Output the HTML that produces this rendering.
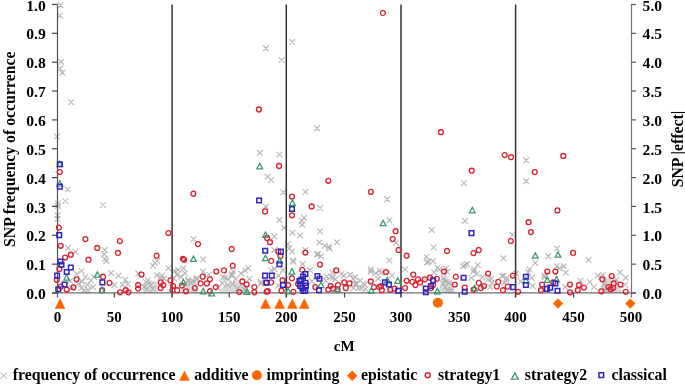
<!DOCTYPE html><html><head><meta charset="utf-8"><style>html,body{margin:0;padding:0;background:#fff;width:685px;height:384px;overflow:hidden}svg{display:block;will-change:transform}text{font-family:"Liberation Serif",serif;font-weight:bold;fill:#000}</style></head><body><svg width="685" height="384" viewBox="0 0 685 384"><polygon points="143,293 143,284 150,280 157,282 158,293" fill="#d9d9d9"/><polygon points="181,293 184,283 190,279 197,283 198,293" fill="#d9d9d9"/><polygon points="219,293 225,284 235,281 247,285 250,293" fill="#d9d9d9"/><polygon points="438,293 441,282 447,278 453,283 455,293" fill="#d9d9d9"/><polygon points="600,293 603,280 610,276 618,281 622,293" fill="#d9d9d9"/><path d="M57.55 2.35l5.7 5.7M57.55 8.05l5.7 -5.7M57.05 12.75l5.7 5.7M57.05 18.45l5.7 -5.7M58.05 58.95l5.7 5.7M58.05 64.65l5.7 -5.7M57.35 65.55l5.7 5.7M57.35 71.25l5.7 -5.7M59.55 69.95l5.7 5.7M59.55 75.65l5.7 -5.7M68.25 99.35l5.7 5.7M68.25 105.05l5.7 -5.7M54.15 133.55l5.7 5.7M54.15 139.25l5.7 -5.7M263.05 45.35l5.7 5.7M263.05 51.05l5.7 -5.7M278.75 57.15l5.7 5.7M278.75 62.85l5.7 -5.7M289.45 39.15l5.7 5.7M289.45 44.85l5.7 -5.7M256.95 149.95l5.7 5.7M256.95 155.65l5.7 -5.7M276.45 151.75l5.7 5.7M276.45 157.45l5.7 -5.7M264.75 173.85l5.7 5.7M264.75 179.55l5.7 -5.7M268.40 177.25l5.7 5.7M268.40 182.95l5.7 -5.7M314.05 125.45l5.7 5.7M314.05 131.15l5.7 -5.7M461.05 180.25l5.7 5.7M461.05 185.95l5.7 -5.7M523.35 157.45l5.7 5.7M523.35 163.15l5.7 -5.7M523.35 178.35l5.7 5.7M523.35 184.05l5.7 -5.7M64.65 186.55l5.7 5.7M64.65 192.25l5.7 -5.7M62.45 198.25l5.7 5.7M62.45 203.95l5.7 -5.7M54.95 200.55l5.7 5.7M54.95 206.25l5.7 -5.7M54.95 203.15l5.7 5.7M54.95 208.85l5.7 -5.7M100.05 202.25l5.7 5.7M100.05 207.95l5.7 -5.7M54.65 212.35l5.7 5.7M54.65 218.05l5.7 -5.7M54.65 216.15l5.7 5.7M54.65 221.85l5.7 -5.7M190.65 236.15l5.7 5.7M190.65 241.85l5.7 -5.7M280.55 189.45l5.7 5.7M280.55 195.15l5.7 -5.7M302.75 189.05l5.7 5.7M302.75 194.75l5.7 -5.7M317.35 205.15l5.7 5.7M317.35 210.85l5.7 -5.7M262.95 203.85l5.7 5.7M262.95 209.55l5.7 -5.7M301.15 214.85l5.7 5.7M301.15 220.55l5.7 -5.7M298.85 217.95l5.7 5.7M298.85 223.65l5.7 -5.7M276.55 217.15l5.7 5.7M276.55 222.85l5.7 -5.7M299.35 221.85l5.7 5.7M299.35 227.55l5.7 -5.7M281.35 224.95l5.7 5.7M281.35 230.65l5.7 -5.7M384.45 196.35l5.7 5.7M384.45 202.05l5.7 -5.7M386.55 217.45l5.7 5.7M386.55 223.15l5.7 -5.7M462.15 217.95l5.7 5.7M462.15 223.65l5.7 -5.7M428.85 227.15l5.7 5.7M428.85 232.85l5.7 -5.7M65.05 245.05l5.7 5.7M65.05 250.75l5.7 -5.7M72.65 249.25l5.7 5.7M72.65 254.95l5.7 -5.7M101.85 247.15l5.7 5.7M101.85 252.85l5.7 -5.7M101.35 251.35l5.7 5.7M101.35 257.05l5.7 -5.7M102.35 256.05l5.7 5.7M102.35 261.75l5.7 -5.7M152.15 260.15l5.7 5.7M152.15 265.85l5.7 -5.7M200.35 256.55l5.7 5.7M200.35 262.25l5.7 -5.7M271.55 233.65l5.7 5.7M271.55 239.35l5.7 -5.7M271.55 247.15l5.7 5.7M271.55 252.85l5.7 -5.7M289.55 229.95l5.7 5.7M289.55 235.65l5.7 -5.7M297.35 232.55l5.7 5.7M297.35 238.25l5.7 -5.7M317.15 228.40l5.7 5.7M317.15 234.10l5.7 -5.7M316.45 239.65l5.7 5.7M316.45 245.35l5.7 -5.7M321.85 242.85l5.7 5.7M321.85 248.55l5.7 -5.7M284.85 241.45l5.7 5.7M284.85 247.15l5.7 -5.7M289.15 248.65l5.7 5.7M289.15 254.35l5.7 -5.7M302.60 247.10l5.7 5.7M302.60 252.80l5.7 -5.7M314.05 251.35l5.7 5.7M314.05 257.05l5.7 -5.7M318.15 253.40l5.7 5.7M318.15 259.10l5.7 -5.7M290.05 257.55l5.7 5.7M290.05 263.25l5.7 -5.7M299.65 261.20l5.7 5.7M299.65 266.90l5.7 -5.7M334.15 239.35l5.7 5.7M334.15 245.05l5.7 -5.7M326.05 243.85l5.7 5.7M326.05 249.55l5.7 -5.7M393.25 239.85l5.7 5.7M393.25 245.55l5.7 -5.7M386.55 257.55l5.7 5.7M386.55 263.25l5.7 -5.7M430.75 244.55l5.7 5.7M430.75 250.25l5.7 -5.7M423.70 254.00l5.7 5.7M423.70 259.70l5.7 -5.7M430.10 258.27l5.7 5.7M430.10 263.98l5.7 -5.7M424.05 259.65l5.7 5.7M424.05 265.35l5.7 -5.7M461.85 262.15l5.7 5.7M461.85 267.85l5.7 -5.7M474.85 262.15l5.7 5.7M474.85 267.85l5.7 -5.7M509.55 232.05l5.7 5.7M509.55 237.75l5.7 -5.7M500.65 255.45l5.7 5.7M500.65 261.15l5.7 -5.7M545.45 253.40l5.7 5.7M545.45 259.10l5.7 -5.7M532.45 260.15l5.7 5.7M532.45 265.85l5.7 -5.7M554.15 245.55l5.7 5.7M554.15 251.25l5.7 -5.7M585.65 257.05l5.7 5.7M585.65 262.75l5.7 -5.7M103.40 258.15l5.7 5.7M103.40 263.85l5.7 -5.7M108.40 270.15l5.7 5.7M108.40 275.85l5.7 -5.7M115.65 272.75l5.7 5.7M115.65 278.45l5.7 -5.7M122.45 276.95l5.7 5.7M122.45 282.65l5.7 -5.7M111.55 282.15l5.7 5.7M111.55 287.85l5.7 -5.7M125.05 281.15l5.7 5.7M125.05 286.85l5.7 -5.7M135.45 270.65l5.7 5.7M135.45 276.35l5.7 -5.7M150.05 262.85l5.7 5.7M150.05 268.55l5.7 -5.7M154.25 258.15l5.7 5.7M154.25 263.85l5.7 -5.7M153.90 272.45l5.7 5.7M153.90 278.15l5.7 -5.7M143.15 279.15l5.7 5.7M143.15 284.85l5.7 -5.7M148.15 282.15l5.7 5.7M148.15 287.85l5.7 -5.7M144.15 286.15l5.7 5.7M144.15 291.85l5.7 -5.7M150.15 286.15l5.7 5.7M150.15 291.85l5.7 -5.7M141.15 284.15l5.7 5.7M141.15 289.85l5.7 -5.7M165.45 265.45l5.7 5.7M165.45 271.15l5.7 -5.7M171.75 268.05l5.7 5.7M171.75 273.75l5.7 -5.7M175.35 267.05l5.7 5.7M175.35 272.75l5.7 -5.7M180.55 265.45l5.7 5.7M180.55 271.15l5.7 -5.7M173.85 271.75l5.7 5.7M173.85 277.45l5.7 -5.7M182.15 270.65l5.7 5.7M182.15 276.35l5.7 -5.7M177.95 273.85l5.7 5.7M177.95 279.55l5.7 -5.7M185.25 276.95l5.7 5.7M185.25 282.65l5.7 -5.7M188.40 280.05l5.7 5.7M188.40 285.75l5.7 -5.7M193.65 276.95l5.7 5.7M193.65 282.65l5.7 -5.7M200.35 268.65l5.7 5.7M200.35 274.35l5.7 -5.7M206.15 271.75l5.7 5.7M206.15 277.45l5.7 -5.7M159.15 272.75l5.7 5.7M159.15 278.45l5.7 -5.7M161.35 275.90l5.7 5.7M161.35 281.60l5.7 -5.7M245.45 265.45l5.7 5.7M245.45 271.15l5.7 -5.7M230.35 268.65l5.7 5.7M230.35 274.35l5.7 -5.7M222.55 274.85l5.7 5.7M222.55 280.55l5.7 -5.7M228.85 272.75l5.7 5.7M228.85 278.45l5.7 -5.7M232.95 275.90l5.7 5.7M232.95 281.60l5.7 -5.7M238.15 270.65l5.7 5.7M238.15 276.35l5.7 -5.7M242.35 267.55l5.7 5.7M242.35 273.25l5.7 -5.7M219.35 280.45l5.7 5.7M219.35 286.15l5.7 -5.7M224.70 282.05l5.7 5.7M224.70 287.75l5.7 -5.7M229.85 281.15l5.7 5.7M229.85 286.85l5.7 -5.7M246.55 275.90l5.7 5.7M246.55 281.60l5.7 -5.7M257.95 279.05l5.7 5.7M257.95 284.75l5.7 -5.7M268.40 267.55l5.7 5.7M268.40 273.25l5.7 -5.7M328.40 273.85l5.7 5.7M328.40 279.55l5.7 -5.7M332.55 276.45l5.7 5.7M332.55 282.15l5.7 -5.7M340.90 272.75l5.7 5.7M340.90 278.45l5.7 -5.7M347.25 271.95l5.7 5.7M347.25 277.65l5.7 -5.7M350.25 275.90l5.7 5.7M350.25 281.60l5.7 -5.7M352.35 281.15l5.7 5.7M352.35 286.85l5.7 -5.7M357.40 277.75l5.7 5.7M357.40 283.45l5.7 -5.7M361.75 282.15l5.7 5.7M361.75 287.85l5.7 -5.7M355.45 285.25l5.7 5.7M355.45 290.95l5.7 -5.7M367.95 268.65l5.7 5.7M367.95 274.35l5.7 -5.7M372.85 270.30l5.7 5.7M372.85 276.00l5.7 -5.7M375.25 275.90l5.7 5.7M375.25 281.60l5.7 -5.7M323.15 277.95l5.7 5.7M323.15 283.65l5.7 -5.7M402.15 266.55l5.7 5.7M402.15 272.25l5.7 -5.7M389.15 272.75l5.7 5.7M389.15 278.45l5.7 -5.7M378.15 269.65l5.7 5.7M378.15 275.35l5.7 -5.7M431.20 269.50l5.7 5.7M431.20 275.20l5.7 -5.7M434.75 264.75l5.7 5.7M434.75 270.45l5.7 -5.7M440.45 274.85l5.7 5.7M440.45 280.55l5.7 -5.7M442.55 279.05l5.7 5.7M442.55 284.75l5.7 -5.7M470.65 268.65l5.7 5.7M470.65 274.35l5.7 -5.7M468.65 274.85l5.7 5.7M468.65 280.55l5.7 -5.7M488.40 275.90l5.7 5.7M488.40 281.60l5.7 -5.7M487.35 284.25l5.7 5.7M487.35 289.95l5.7 -5.7M526.75 266.55l5.7 5.7M526.75 272.25l5.7 -5.7M500.65 272.75l5.7 5.7M500.65 278.45l5.7 -5.7M503.85 277.95l5.7 5.7M503.85 283.65l5.7 -5.7M513.15 270.65l5.7 5.7M513.15 276.35l5.7 -5.7M528.85 274.85l5.7 5.7M528.85 280.55l5.7 -5.7M529.85 283.15l5.7 5.7M529.85 288.85l5.7 -5.7M541.35 272.75l5.7 5.7M541.35 278.45l5.7 -5.7M560.90 263.40l5.7 5.7M560.90 269.10l5.7 -5.7M556.75 265.45l5.7 5.7M556.75 271.15l5.7 -5.7M562.95 269.65l5.7 5.7M562.95 275.35l5.7 -5.7M586.95 279.05l5.7 5.7M586.95 284.75l5.7 -5.7M591.15 284.25l5.7 5.7M591.15 289.95l5.7 -5.7M577.55 277.95l5.7 5.7M577.55 283.65l5.7 -5.7M562.30 284.20l5.7 5.7M562.30 289.90l5.7 -5.7M598.40 273.85l5.7 5.7M598.40 279.55l5.7 -5.7M617.15 269.65l5.7 5.7M617.15 275.35l5.7 -5.7M622.85 274.85l5.7 5.7M622.85 280.55l5.7 -5.7M599.95 272.25l5.7 5.7M599.95 277.95l5.7 -5.7M594.75 272.75l5.7 5.7M594.75 278.45l5.7 -5.7M613.55 276.95l5.7 5.7M613.55 282.65l5.7 -5.7M622.35 282.15l5.7 5.7M622.35 287.85l5.7 -5.7M73.75 271.05l5.7 5.7M73.75 276.75l5.7 -5.7M78.65 268.25l5.7 5.7M78.65 273.95l5.7 -5.7M82.55 274.35l5.7 5.7M82.55 280.05l5.7 -5.7M87.95 277.55l5.7 5.7M87.95 283.25l5.7 -5.7M79.25 278.65l5.7 5.7M79.25 284.35l5.7 -5.7M84.65 281.95l5.7 5.7M84.65 287.65l5.7 -5.7M90.15 284.15l5.7 5.7M90.15 289.85l5.7 -5.7M78.65 285.25l5.7 5.7M78.65 290.95l5.7 -5.7M81.45 287.45l5.7 5.7M81.45 293.15l5.7 -5.7M75.95 280.85l5.7 5.7M75.95 286.55l5.7 -5.7M91.25 274.35l5.7 5.7M91.25 280.05l5.7 -5.7M85.15 287.15l5.7 5.7M85.15 292.85l5.7 -5.7M67.15 278.15l5.7 5.7M67.15 283.85l5.7 -5.7M69.15 285.15l5.7 5.7M69.15 290.85l5.7 -5.7M119.75 281.95l5.7 5.7M119.75 287.65l5.7 -5.7M144.85 277.55l5.7 5.7M144.85 283.25l5.7 -5.7M157.95 274.35l5.7 5.7M157.95 280.05l5.7 -5.7M171.05 275.45l5.7 5.7M171.05 281.15l5.7 -5.7M189.75 277.55l5.7 5.7M189.75 283.25l5.7 -5.7M194.05 275.45l5.7 5.7M194.05 281.15l5.7 -5.7M185.35 278.65l5.7 5.7M185.35 284.35l5.7 -5.7M220.35 274.35l5.7 5.7M220.35 280.05l5.7 -5.7M225.85 276.55l5.7 5.7M225.85 282.25l5.7 -5.7M229.15 271.05l5.7 5.7M229.15 276.75l5.7 -5.7M215.15 285.15l5.7 5.7M215.15 290.85l5.7 -5.7M235.15 285.15l5.7 5.7M235.15 290.85l5.7 -5.7M241.15 286.15l5.7 5.7M241.15 291.85l5.7 -5.7M326.55 245.65l5.7 5.7M326.55 251.35l5.7 -5.7M315.35 251.25l5.7 5.7M315.35 256.95l5.7 -5.7M290.65 258.95l5.7 5.7M290.65 264.65l5.7 -5.7M323.75 273.75l5.7 5.7M323.75 279.45l5.7 -5.7M329.45 269.55l5.7 5.7M329.45 275.25l5.7 -5.7M307.15 267.15l5.7 5.7M307.15 272.85l5.7 -5.7M309.15 278.15l5.7 5.7M309.15 283.85l5.7 -5.7M338.65 271.05l5.7 5.7M338.65 276.75l5.7 -5.7M352.25 274.35l5.7 5.7M352.25 280.05l5.7 -5.7M360.55 280.85l5.7 5.7M360.55 286.55l5.7 -5.7M353.95 280.85l5.7 5.7M353.95 286.55l5.7 -5.7M350.65 285.25l5.7 5.7M350.65 290.95l5.7 -5.7M358.35 285.25l5.7 5.7M358.35 290.95l5.7 -5.7M362.65 286.35l5.7 5.7M362.65 292.05l5.7 -5.7M368.15 266.65l5.7 5.7M368.15 272.35l5.7 -5.7M376.95 267.75l5.7 5.7M376.95 273.45l5.7 -5.7M425.55 258.95l5.7 5.7M425.55 264.65l5.7 -5.7M436.45 266.65l5.7 5.7M436.45 272.35l5.7 -5.7M443.05 265.55l5.7 5.7M443.05 271.25l5.7 -5.7M444.65 268.85l5.7 5.7M444.65 274.55l5.7 -5.7M441.45 276.55l5.7 5.7M441.45 282.25l5.7 -5.7M440.35 280.85l5.7 5.7M440.35 286.55l5.7 -5.7M442.55 284.15l5.7 5.7M442.55 289.85l5.7 -5.7M444.65 287.45l5.7 5.7M444.65 293.15l5.7 -5.7M460.05 263.35l5.7 5.7M460.05 269.05l5.7 -5.7M446.15 280.15l5.7 5.7M446.15 285.85l5.7 -5.7M448.15 287.15l5.7 5.7M448.15 292.85l5.7 -5.7M471.35 266.65l5.7 5.7M471.35 272.35l5.7 -5.7M474.05 271.05l5.7 5.7M474.05 276.75l5.7 -5.7M479.55 274.35l5.7 5.7M479.55 280.05l5.7 -5.7M485.05 276.55l5.7 5.7M485.05 282.25l5.7 -5.7M489.45 279.75l5.7 5.7M489.45 285.45l5.7 -5.7M499.25 273.15l5.7 5.7M499.25 278.85l5.7 -5.7M503.65 275.45l5.7 5.7M503.65 281.15l5.7 -5.7M501.45 279.75l5.7 5.7M501.45 285.45l5.7 -5.7M464.25 261.15l5.7 5.7M464.25 266.85l5.7 -5.7M525.35 269.35l5.7 5.7M525.35 275.05l5.7 -5.7M553.85 263.35l5.7 5.7M553.85 269.05l5.7 -5.7M541.75 274.35l5.7 5.7M541.75 280.05l5.7 -5.7M517.75 278.65l5.7 5.7M517.75 284.35l5.7 -5.7M601.15 281.15l5.7 5.7M601.15 286.85l5.7 -5.7M602.15 287.15l5.7 5.7M602.15 292.85l5.7 -5.7M275.55 272.95l5.7 5.7M275.55 278.65l5.7 -5.7M275.55 282.65l5.7 5.7M275.55 288.35l5.7 -5.7M271.65 266.15l5.7 5.7M271.65 271.85l5.7 -5.7M258.05 280.75l5.7 5.7M258.05 286.45l5.7 -5.7M280.15 267.15l5.7 5.7M280.15 272.85l5.7 -5.7M282.15 277.15l5.7 5.7M282.15 282.85l5.7 -5.7M286.35 245.55l5.7 5.7M286.35 251.25l5.7 -5.7M330.25 274.85l5.7 5.7M330.25 280.55l5.7 -5.7" stroke="#b2b2b2" stroke-width="1.05" fill="none"/><line x1="52" y1="292.8" x2="636" y2="292.8" stroke="#6e6e6e" stroke-width="1.3"/><line x1="57.5" y1="4.5" x2="57.5" y2="297.5" stroke="#555" stroke-width="1.2"/><line x1="631.5" y1="4.5" x2="631.5" y2="297.5" stroke="#777" stroke-width="1.2"/><line x1="52" y1="293.00" x2="57.5" y2="293.00" stroke="#444" stroke-width="1.2"/><line x1="631.0" y1="293.00" x2="636" y2="293.00" stroke="#555" stroke-width="1.2"/><line x1="52" y1="264.15" x2="57.5" y2="264.15" stroke="#444" stroke-width="1.2"/><line x1="631.0" y1="264.15" x2="636" y2="264.15" stroke="#555" stroke-width="1.2"/><line x1="52" y1="235.30" x2="57.5" y2="235.30" stroke="#444" stroke-width="1.2"/><line x1="631.0" y1="235.30" x2="636" y2="235.30" stroke="#555" stroke-width="1.2"/><line x1="52" y1="206.45" x2="57.5" y2="206.45" stroke="#444" stroke-width="1.2"/><line x1="631.0" y1="206.45" x2="636" y2="206.45" stroke="#555" stroke-width="1.2"/><line x1="52" y1="177.60" x2="57.5" y2="177.60" stroke="#444" stroke-width="1.2"/><line x1="631.0" y1="177.60" x2="636" y2="177.60" stroke="#555" stroke-width="1.2"/><line x1="52" y1="148.75" x2="57.5" y2="148.75" stroke="#444" stroke-width="1.2"/><line x1="631.0" y1="148.75" x2="636" y2="148.75" stroke="#555" stroke-width="1.2"/><line x1="52" y1="119.90" x2="57.5" y2="119.90" stroke="#444" stroke-width="1.2"/><line x1="631.0" y1="119.90" x2="636" y2="119.90" stroke="#555" stroke-width="1.2"/><line x1="52" y1="91.05" x2="57.5" y2="91.05" stroke="#444" stroke-width="1.2"/><line x1="631.0" y1="91.05" x2="636" y2="91.05" stroke="#555" stroke-width="1.2"/><line x1="52" y1="62.20" x2="57.5" y2="62.20" stroke="#444" stroke-width="1.2"/><line x1="631.0" y1="62.20" x2="636" y2="62.20" stroke="#555" stroke-width="1.2"/><line x1="52" y1="33.35" x2="57.5" y2="33.35" stroke="#444" stroke-width="1.2"/><line x1="631.0" y1="33.35" x2="636" y2="33.35" stroke="#555" stroke-width="1.2"/><line x1="52" y1="4.50" x2="57.5" y2="4.50" stroke="#444" stroke-width="1.2"/><line x1="631.0" y1="4.50" x2="636" y2="4.50" stroke="#555" stroke-width="1.2"/><line x1="172.10" y1="4.5" x2="172.10" y2="297.5" stroke="#333" stroke-width="1.5"/><line x1="286.30" y1="4.5" x2="286.30" y2="297.5" stroke="#333" stroke-width="1.5"/><line x1="401.00" y1="4.5" x2="401.00" y2="297.5" stroke="#333" stroke-width="1.5"/><line x1="515.60" y1="4.5" x2="515.60" y2="297.5" stroke="#333" stroke-width="1.5"/><line x1="114.30" y1="293.0" x2="114.30" y2="297.5" stroke="#444" stroke-width="1.2"/><line x1="229.30" y1="293.0" x2="229.30" y2="297.5" stroke="#444" stroke-width="1.2"/><line x1="344.50" y1="293.0" x2="344.50" y2="297.5" stroke="#444" stroke-width="1.2"/><line x1="459.20" y1="293.0" x2="459.20" y2="297.5" stroke="#444" stroke-width="1.2"/><line x1="573.60" y1="293.0" x2="573.60" y2="297.5" stroke="#444" stroke-width="1.2"/><path d="M380.45 12.90a2.45 2.45 0 1 0 4.9 0a2.45 2.45 0 1 0 -4.9 0M256.45 109.50a2.45 2.45 0 1 0 4.9 0a2.45 2.45 0 1 0 -4.9 0M276.65 166.00a2.45 2.45 0 1 0 4.9 0a2.45 2.45 0 1 0 -4.9 0M57.25 172.00a2.45 2.45 0 1 0 4.9 0a2.45 2.45 0 1 0 -4.9 0M438.45 132.20a2.45 2.45 0 1 0 4.9 0a2.45 2.45 0 1 0 -4.9 0M502.25 155.10a2.45 2.45 0 1 0 4.9 0a2.45 2.45 0 1 0 -4.9 0M508.55 157.20a2.45 2.45 0 1 0 4.9 0a2.45 2.45 0 1 0 -4.9 0M469.25 170.70a2.45 2.45 0 1 0 4.9 0a2.45 2.45 0 1 0 -4.9 0M532.25 172.10a2.45 2.45 0 1 0 4.9 0a2.45 2.45 0 1 0 -4.9 0M560.85 155.90a2.45 2.45 0 1 0 4.9 0a2.45 2.45 0 1 0 -4.9 0M325.85 180.80a2.45 2.45 0 1 0 4.9 0a2.45 2.45 0 1 0 -4.9 0M368.45 191.90a2.45 2.45 0 1 0 4.9 0a2.45 2.45 0 1 0 -4.9 0M190.85 193.75a2.45 2.45 0 1 0 4.9 0a2.45 2.45 0 1 0 -4.9 0M165.95 233.10a2.45 2.45 0 1 0 4.9 0a2.45 2.45 0 1 0 -4.9 0M289.55 196.60a2.45 2.45 0 1 0 4.9 0a2.45 2.45 0 1 0 -4.9 0M309.15 206.40a2.45 2.45 0 1 0 4.9 0a2.45 2.45 0 1 0 -4.9 0M262.55 211.40a2.45 2.45 0 1 0 4.9 0a2.45 2.45 0 1 0 -4.9 0M289.55 215.30a2.45 2.45 0 1 0 4.9 0a2.45 2.45 0 1 0 -4.9 0M393.15 231.25a2.45 2.45 0 1 0 4.9 0a2.45 2.45 0 1 0 -4.9 0M554.95 210.40a2.45 2.45 0 1 0 4.9 0a2.45 2.45 0 1 0 -4.9 0M526.15 222.20a2.45 2.45 0 1 0 4.9 0a2.45 2.45 0 1 0 -4.9 0M528.45 232.10a2.45 2.45 0 1 0 4.9 0a2.45 2.45 0 1 0 -4.9 0M56.45 227.60a2.45 2.45 0 1 0 4.9 0a2.45 2.45 0 1 0 -4.9 0M82.95 239.10a2.45 2.45 0 1 0 4.9 0a2.45 2.45 0 1 0 -4.9 0M58.25 245.80a2.45 2.45 0 1 0 4.9 0a2.45 2.45 0 1 0 -4.9 0M94.75 247.90a2.45 2.45 0 1 0 4.9 0a2.45 2.45 0 1 0 -4.9 0M68.35 254.70a2.45 2.45 0 1 0 4.9 0a2.45 2.45 0 1 0 -4.9 0M62.65 257.50a2.45 2.45 0 1 0 4.9 0a2.45 2.45 0 1 0 -4.9 0M86.05 259.70a2.45 2.45 0 1 0 4.9 0a2.45 2.45 0 1 0 -4.9 0M117.45 241.10a2.45 2.45 0 1 0 4.9 0a2.45 2.45 0 1 0 -4.9 0M115.55 252.90a2.45 2.45 0 1 0 4.9 0a2.45 2.45 0 1 0 -4.9 0M154.15 255.70a2.45 2.45 0 1 0 4.9 0a2.45 2.45 0 1 0 -4.9 0M195.55 244.10a2.45 2.45 0 1 0 4.9 0a2.45 2.45 0 1 0 -4.9 0M180.45 258.80a2.45 2.45 0 1 0 4.9 0a2.45 2.45 0 1 0 -4.9 0M181.55 259.70a2.45 2.45 0 1 0 4.9 0a2.45 2.45 0 1 0 -4.9 0M229.25 249.00a2.45 2.45 0 1 0 4.9 0a2.45 2.45 0 1 0 -4.9 0M264.65 238.00a2.45 2.45 0 1 0 4.9 0a2.45 2.45 0 1 0 -4.9 0M267.55 242.20a2.45 2.45 0 1 0 4.9 0a2.45 2.45 0 1 0 -4.9 0M268.80 260.90a2.45 2.45 0 1 0 4.9 0a2.45 2.45 0 1 0 -4.9 0M230.25 265.70a2.45 2.45 0 1 0 4.9 0a2.45 2.45 0 1 0 -4.9 0M302.95 252.60a2.45 2.45 0 1 0 4.9 0a2.45 2.45 0 1 0 -4.9 0M277.95 256.25a2.45 2.45 0 1 0 4.9 0a2.45 2.45 0 1 0 -4.9 0M275.85 251.60a2.45 2.45 0 1 0 4.9 0a2.45 2.45 0 1 0 -4.9 0M317.55 264.50a2.45 2.45 0 1 0 4.9 0a2.45 2.45 0 1 0 -4.9 0M390.25 239.10a2.45 2.45 0 1 0 4.9 0a2.45 2.45 0 1 0 -4.9 0M396.05 250.00a2.45 2.45 0 1 0 4.9 0a2.45 2.45 0 1 0 -4.9 0M404.15 255.70a2.45 2.45 0 1 0 4.9 0a2.45 2.45 0 1 0 -4.9 0M444.55 251.00a2.45 2.45 0 1 0 4.9 0a2.45 2.45 0 1 0 -4.9 0M471.05 253.10a2.45 2.45 0 1 0 4.9 0a2.45 2.45 0 1 0 -4.9 0M476.30 250.00a2.45 2.45 0 1 0 4.9 0a2.45 2.45 0 1 0 -4.9 0M508.35 241.10a2.45 2.45 0 1 0 4.9 0a2.45 2.45 0 1 0 -4.9 0M570.65 252.90a2.45 2.45 0 1 0 4.9 0a2.45 2.45 0 1 0 -4.9 0M56.95 268.90a2.45 2.45 0 1 0 4.9 0a2.45 2.45 0 1 0 -4.9 0M54.35 279.80a2.45 2.45 0 1 0 4.9 0a2.45 2.45 0 1 0 -4.9 0M74.15 279.30a2.45 2.45 0 1 0 4.9 0a2.45 2.45 0 1 0 -4.9 0M100.65 276.70a2.45 2.45 0 1 0 4.9 0a2.45 2.45 0 1 0 -4.9 0M107.10 282.90a2.45 2.45 0 1 0 4.9 0a2.45 2.45 0 1 0 -4.9 0M58.45 286.60a2.45 2.45 0 1 0 4.9 0a2.45 2.45 0 1 0 -4.9 0M70.95 287.30a2.45 2.45 0 1 0 4.9 0a2.45 2.45 0 1 0 -4.9 0M64.25 289.50a2.45 2.45 0 1 0 4.9 0a2.45 2.45 0 1 0 -4.9 0M99.65 290.20a2.45 2.45 0 1 0 4.9 0a2.45 2.45 0 1 0 -4.9 0M117.65 292.30a2.45 2.45 0 1 0 4.9 0a2.45 2.45 0 1 0 -4.9 0M123.35 290.20a2.45 2.45 0 1 0 4.9 0a2.45 2.45 0 1 0 -4.9 0M125.95 292.30a2.45 2.45 0 1 0 4.9 0a2.45 2.45 0 1 0 -4.9 0M139.05 274.60a2.45 2.45 0 1 0 4.9 0a2.45 2.45 0 1 0 -4.9 0M135.65 285.00a2.45 2.45 0 1 0 4.9 0a2.45 2.45 0 1 0 -4.9 0M135.65 288.60a2.45 2.45 0 1 0 4.9 0a2.45 2.45 0 1 0 -4.9 0M158.25 282.40a2.45 2.45 0 1 0 4.9 0a2.45 2.45 0 1 0 -4.9 0M160.85 285.00a2.45 2.45 0 1 0 4.9 0a2.45 2.45 0 1 0 -4.9 0M158.25 288.10a2.45 2.45 0 1 0 4.9 0a2.45 2.45 0 1 0 -4.9 0M167.95 280.30a2.45 2.45 0 1 0 4.9 0a2.45 2.45 0 1 0 -4.9 0M170.55 286.00a2.45 2.45 0 1 0 4.9 0a2.45 2.45 0 1 0 -4.9 0M170.05 290.20a2.45 2.45 0 1 0 4.9 0a2.45 2.45 0 1 0 -4.9 0M174.75 290.20a2.45 2.45 0 1 0 4.9 0a2.45 2.45 0 1 0 -4.9 0M179.45 285.50a2.45 2.45 0 1 0 4.9 0a2.45 2.45 0 1 0 -4.9 0M183.55 291.25a2.45 2.45 0 1 0 4.9 0a2.45 2.45 0 1 0 -4.9 0M192.45 288.10a2.45 2.45 0 1 0 4.9 0a2.45 2.45 0 1 0 -4.9 0M200.25 276.70a2.45 2.45 0 1 0 4.9 0a2.45 2.45 0 1 0 -4.9 0M198.15 283.40a2.45 2.45 0 1 0 4.9 0a2.45 2.45 0 1 0 -4.9 0M204.45 283.40a2.45 2.45 0 1 0 4.9 0a2.45 2.45 0 1 0 -4.9 0M207.55 279.30a2.45 2.45 0 1 0 4.9 0a2.45 2.45 0 1 0 -4.9 0M213.80 271.50a2.45 2.45 0 1 0 4.9 0a2.45 2.45 0 1 0 -4.9 0M213.25 287.10a2.45 2.45 0 1 0 4.9 0a2.45 2.45 0 1 0 -4.9 0M207.55 291.25a2.45 2.45 0 1 0 4.9 0a2.45 2.45 0 1 0 -4.9 0M221.45 270.40a2.45 2.45 0 1 0 4.9 0a2.45 2.45 0 1 0 -4.9 0M239.85 281.40a2.45 2.45 0 1 0 4.9 0a2.45 2.45 0 1 0 -4.9 0M244.15 284.50a2.45 2.45 0 1 0 4.9 0a2.45 2.45 0 1 0 -4.9 0M236.85 292.10a2.45 2.45 0 1 0 4.9 0a2.45 2.45 0 1 0 -4.9 0M251.95 287.10a2.45 2.45 0 1 0 4.9 0a2.45 2.45 0 1 0 -4.9 0M251.95 292.30a2.45 2.45 0 1 0 4.9 0a2.45 2.45 0 1 0 -4.9 0M264.15 291.80a2.45 2.45 0 1 0 4.9 0a2.45 2.45 0 1 0 -4.9 0M265.15 291.20a2.45 2.45 0 1 0 4.9 0a2.45 2.45 0 1 0 -4.9 0M263.55 282.70a2.45 2.45 0 1 0 4.9 0a2.45 2.45 0 1 0 -4.9 0M268.80 282.40a2.45 2.45 0 1 0 4.9 0a2.45 2.45 0 1 0 -4.9 0M299.85 269.90a2.45 2.45 0 1 0 4.9 0a2.45 2.45 0 1 0 -4.9 0M295.65 284.00a2.45 2.45 0 1 0 4.9 0a2.45 2.45 0 1 0 -4.9 0M289.45 278.20a2.45 2.45 0 1 0 4.9 0a2.45 2.45 0 1 0 -4.9 0M290.95 291.80a2.45 2.45 0 1 0 4.9 0a2.45 2.45 0 1 0 -4.9 0M285.75 285.00a2.45 2.45 0 1 0 4.9 0a2.45 2.45 0 1 0 -4.9 0M280.05 280.30a2.45 2.45 0 1 0 4.9 0a2.45 2.45 0 1 0 -4.9 0M279.05 290.70a2.45 2.45 0 1 0 4.9 0a2.45 2.45 0 1 0 -4.9 0M312.85 287.10a2.45 2.45 0 1 0 4.9 0a2.45 2.45 0 1 0 -4.9 0M325.85 289.70a2.45 2.45 0 1 0 4.9 0a2.45 2.45 0 1 0 -4.9 0M328.12 286.00a2.45 2.45 0 1 0 4.9 0a2.45 2.45 0 1 0 -4.9 0M333.80 270.40a2.45 2.45 0 1 0 4.9 0a2.45 2.45 0 1 0 -4.9 0M330.35 288.60a2.45 2.45 0 1 0 4.9 0a2.45 2.45 0 1 0 -4.9 0M335.55 285.00a2.45 2.45 0 1 0 4.9 0a2.45 2.45 0 1 0 -4.9 0M335.05 289.70a2.45 2.45 0 1 0 4.9 0a2.45 2.45 0 1 0 -4.9 0M341.85 282.40a2.45 2.45 0 1 0 4.9 0a2.45 2.45 0 1 0 -4.9 0M347.05 283.40a2.45 2.45 0 1 0 4.9 0a2.45 2.45 0 1 0 -4.9 0M343.35 288.10a2.45 2.45 0 1 0 4.9 0a2.45 2.45 0 1 0 -4.9 0M368.35 281.40a2.45 2.45 0 1 0 4.9 0a2.45 2.45 0 1 0 -4.9 0M371.55 287.10a2.45 2.45 0 1 0 4.9 0a2.45 2.45 0 1 0 -4.9 0M376.75 287.10a2.45 2.45 0 1 0 4.9 0a2.45 2.45 0 1 0 -4.9 0M379.35 290.20a2.45 2.45 0 1 0 4.9 0a2.45 2.45 0 1 0 -4.9 0M383.55 272.00a2.45 2.45 0 1 0 4.9 0a2.45 2.45 0 1 0 -4.9 0M378.55 286.00a2.45 2.45 0 1 0 4.9 0a2.45 2.45 0 1 0 -4.9 0M387.95 289.70a2.45 2.45 0 1 0 4.9 0a2.45 2.45 0 1 0 -4.9 0M392.15 288.60a2.45 2.45 0 1 0 4.9 0a2.45 2.45 0 1 0 -4.9 0M402.55 288.10a2.45 2.45 0 1 0 4.9 0a2.45 2.45 0 1 0 -4.9 0M404.15 280.80a2.45 2.45 0 1 0 4.9 0a2.45 2.45 0 1 0 -4.9 0M410.85 274.60a2.45 2.45 0 1 0 4.9 0a2.45 2.45 0 1 0 -4.9 0M409.85 281.90a2.45 2.45 0 1 0 4.9 0a2.45 2.45 0 1 0 -4.9 0M412.95 285.00a2.45 2.45 0 1 0 4.9 0a2.45 2.45 0 1 0 -4.9 0M415.55 279.30a2.45 2.45 0 1 0 4.9 0a2.45 2.45 0 1 0 -4.9 0M417.65 282.40a2.45 2.45 0 1 0 4.9 0a2.45 2.45 0 1 0 -4.9 0M422.35 279.30a2.45 2.45 0 1 0 4.9 0a2.45 2.45 0 1 0 -4.9 0M427.55 277.70a2.45 2.45 0 1 0 4.9 0a2.45 2.45 0 1 0 -4.9 0M434.35 278.75a2.45 2.45 0 1 0 4.9 0a2.45 2.45 0 1 0 -4.9 0M430.65 285.00a2.45 2.45 0 1 0 4.9 0a2.45 2.45 0 1 0 -4.9 0M428.55 288.10a2.45 2.45 0 1 0 4.9 0a2.45 2.45 0 1 0 -4.9 0M441.45 271.50a2.45 2.45 0 1 0 4.9 0a2.45 2.45 0 1 0 -4.9 0M453.35 276.70a2.45 2.45 0 1 0 4.9 0a2.45 2.45 0 1 0 -4.9 0M452.35 284.50a2.45 2.45 0 1 0 4.9 0a2.45 2.45 0 1 0 -4.9 0M462.25 287.60a2.45 2.45 0 1 0 4.9 0a2.45 2.45 0 1 0 -4.9 0M485.65 273.50a2.45 2.45 0 1 0 4.9 0a2.45 2.45 0 1 0 -4.9 0M476.30 282.90a2.45 2.45 0 1 0 4.9 0a2.45 2.45 0 1 0 -4.9 0M481.55 286.00a2.45 2.45 0 1 0 4.9 0a2.45 2.45 0 1 0 -4.9 0M471.05 289.70a2.45 2.45 0 1 0 4.9 0a2.45 2.45 0 1 0 -4.9 0M478.35 288.10a2.45 2.45 0 1 0 4.9 0a2.45 2.45 0 1 0 -4.9 0M495.85 281.90a2.45 2.45 0 1 0 4.9 0a2.45 2.45 0 1 0 -4.9 0M494.35 286.60a2.45 2.45 0 1 0 4.9 0a2.45 2.45 0 1 0 -4.9 0M500.55 290.20a2.45 2.45 0 1 0 4.9 0a2.45 2.45 0 1 0 -4.9 0M505.25 286.60a2.45 2.45 0 1 0 4.9 0a2.45 2.45 0 1 0 -4.9 0M510.45 275.60a2.45 2.45 0 1 0 4.9 0a2.45 2.45 0 1 0 -4.9 0M515.65 291.80a2.45 2.45 0 1 0 4.9 0a2.45 2.45 0 1 0 -4.9 0M544.85 271.50a2.45 2.45 0 1 0 4.9 0a2.45 2.45 0 1 0 -4.9 0M539.65 284.50a2.45 2.45 0 1 0 4.9 0a2.45 2.45 0 1 0 -4.9 0M538.55 290.20a2.45 2.45 0 1 0 4.9 0a2.45 2.45 0 1 0 -4.9 0M552.95 271.50a2.45 2.45 0 1 0 4.9 0a2.45 2.45 0 1 0 -4.9 0M550.85 282.40a2.45 2.45 0 1 0 4.9 0a2.45 2.45 0 1 0 -4.9 0M567.55 284.50a2.45 2.45 0 1 0 4.9 0a2.45 2.45 0 1 0 -4.9 0M567.55 292.30a2.45 2.45 0 1 0 4.9 0a2.45 2.45 0 1 0 -4.9 0M576.45 285.00a2.45 2.45 0 1 0 4.9 0a2.45 2.45 0 1 0 -4.9 0M575.35 290.20a2.45 2.45 0 1 0 4.9 0a2.45 2.45 0 1 0 -4.9 0M581.55 287.60a2.45 2.45 0 1 0 4.9 0a2.45 2.45 0 1 0 -4.9 0M598.80 291.25a2.45 2.45 0 1 0 4.9 0a2.45 2.45 0 1 0 -4.9 0M599.85 279.30a2.45 2.45 0 1 0 4.9 0a2.45 2.45 0 1 0 -4.9 0M609.25 276.10a2.45 2.45 0 1 0 4.9 0a2.45 2.45 0 1 0 -4.9 0M611.30 283.40a2.45 2.45 0 1 0 4.9 0a2.45 2.45 0 1 0 -4.9 0M618.05 284.50a2.45 2.45 0 1 0 4.9 0a2.45 2.45 0 1 0 -4.9 0M606.05 287.10a2.45 2.45 0 1 0 4.9 0a2.45 2.45 0 1 0 -4.9 0M608.15 289.20a2.45 2.45 0 1 0 4.9 0a2.45 2.45 0 1 0 -4.9 0M610.75 288.10a2.45 2.45 0 1 0 4.9 0a2.45 2.45 0 1 0 -4.9 0M623.25 291.80a2.45 2.45 0 1 0 4.9 0a2.45 2.45 0 1 0 -4.9 0" stroke="#d92232" stroke-width="1.35" fill="none"/><path d="M259.70 163.40L262.60 168.80L256.80 168.80ZM59.80 180.60L62.70 186.00L56.90 186.00ZM292.30 199.90L295.20 205.30L289.40 205.30ZM383.10 220.20L386.00 225.60L380.20 225.60ZM472.30 207.40L475.20 212.80L469.40 212.80ZM265.50 232.00L268.40 237.40L262.60 237.40ZM265.50 255.20L268.40 260.60L262.60 260.60ZM193.50 256.00L196.40 261.40L190.60 261.40ZM535.30 252.80L538.20 258.20L532.40 258.20ZM558.00 251.80L560.90 257.20L555.10 257.20ZM59.80 161.10L62.70 166.50L56.90 166.50ZM66.70 274.80L69.60 280.20L63.80 280.20ZM97.40 271.70L100.30 277.10L94.50 277.10ZM183.40 279.50L186.30 284.90L180.50 284.90ZM203.20 288.35L206.10 293.75L200.30 293.75ZM211.60 290.40L214.50 295.80L208.70 295.80ZM246.80 288.90L249.70 294.30L243.90 294.30ZM291.90 268.60L294.80 274.00L289.00 274.00ZM288.20 288.35L291.10 293.75L285.30 293.75ZM321.00 282.10L323.90 287.50L318.10 287.50ZM337.50 287.30L340.40 292.70L334.60 292.70ZM371.40 287.80L374.30 293.20L368.50 293.20ZM387.30 277.40L390.20 282.80L384.40 282.80ZM397.70 277.90L400.60 283.30L394.80 283.30ZM437.30 288.35L440.20 293.75L434.40 293.75ZM474.60 285.20L477.50 290.60L471.70 290.60ZM525.90 277.40L528.80 282.80L523.00 282.80ZM547.30 276.90L550.20 282.30L544.40 282.30ZM556.50 276.40L559.40 281.80L553.60 281.80ZM102.00 287.10L104.90 292.50L99.10 292.50ZM279.60 257.60L282.50 263.00L276.70 263.00Z" stroke="#3a9a6e" stroke-width="1.25" fill="none" stroke-linejoin="miter"/><path d="M57.50 161.90h4.6v4.6h-4.6ZM57.50 184.30h4.6v4.6h-4.6ZM56.90 232.80h4.6v4.6h-4.6ZM58.10 259.20h4.6v4.6h-4.6ZM256.80 198.20h4.6v4.6h-4.6ZM289.70 206.70h4.6v4.6h-4.6ZM262.90 248.50h4.6v4.6h-4.6ZM278.60 249.30h4.6v4.6h-4.6ZM277.10 261.90h4.6v4.6h-4.6ZM469.20 230.80h4.6v4.6h-4.6ZM59.20 262.40h4.6v4.6h-4.6ZM68.50 265.20h4.6v4.6h-4.6ZM64.40 269.70h4.6v4.6h-4.6ZM54.80 273.30h4.6v4.6h-4.6ZM100.10 280.10h4.6v4.6h-4.6ZM62.30 282.20h4.6v4.6h-4.6ZM56.00 286.90h4.6v4.6h-4.6ZM262.70 273.30h4.6v4.6h-4.6ZM269.50 273.30h4.6v4.6h-4.6ZM264.30 280.40h4.6v4.6h-4.6ZM303.10 271.70h4.6v4.6h-4.6ZM298.95 277.50h4.6v4.6h-4.6ZM303.10 280.60h4.6v4.6h-4.6ZM297.90 283.70h4.6v4.6h-4.6ZM303.10 288.40h4.6v4.6h-4.6ZM300.00 285.80h4.6v4.6h-4.6ZM280.70 282.70h4.6v4.6h-4.6ZM315.10 273.80h4.6v4.6h-4.6ZM317.20 276.45h4.6v4.6h-4.6ZM316.70 287.90h4.6v4.6h-4.6ZM382.60 280.10h4.6v4.6h-4.6ZM386.60 282.20h4.6v4.6h-4.6ZM395.90 288.40h4.6v4.6h-4.6ZM423.50 286.30h4.6v4.6h-4.6ZM423.50 290.00h4.6v4.6h-4.6ZM430.80 278.00h4.6v4.6h-4.6ZM428.70 283.70h4.6v4.6h-4.6ZM461.30 275.40h4.6v4.6h-4.6ZM462.40 289.50h4.6v4.6h-4.6ZM510.80 284.80h4.6v4.6h-4.6ZM523.60 274.40h4.6v4.6h-4.6ZM523.60 282.70h4.6v4.6h-4.6ZM544.65 286.60h4.6v4.6h-4.6ZM553.10 281.10h4.6v4.6h-4.6ZM555.20 288.40h4.6v4.6h-4.6ZM547.90 285.30h4.6v4.6h-4.6ZM300.70 274.20h4.6v4.6h-4.6ZM297.20 278.70h4.6v4.6h-4.6ZM303.70 283.20h4.6v4.6h-4.6ZM301.20 288.70h4.6v4.6h-4.6Z" stroke="#3026bc" stroke-width="1.5" fill="none"/><path d="M60.10 298.3L65.40 308.8L54.80 308.8Z" fill="#ff6600"/><path d="M265.50 298.3L270.80 308.8L260.20 308.8Z" fill="#ff6600"/><path d="M279.60 298.3L284.90 308.8L274.30 308.8Z" fill="#ff6600"/><path d="M292.30 298.3L297.60 308.8L287.00 308.8Z" fill="#ff6600"/><path d="M304.30 298.3L309.60 308.8L299.00 308.8Z" fill="#ff6600"/><circle cx="437.9" cy="302.8" r="5" fill="#ff6600"/><path d="M558 298.4L563.2 303.6L558 308.8L552.8 303.6Z" fill="#ff6600"/><path d="M630.3 298.4L635.5 303.6L630.3 308.8L625.0999999999999 303.6Z" fill="#ff6600"/><text x="45.8" y="299.10" font-size="15.6" text-anchor="end">0.0</text><text x="642.6" y="299.10" font-size="15.6">0.0</text><text x="45.8" y="270.25" font-size="15.6" text-anchor="end">0.1</text><text x="642.6" y="270.25" font-size="15.6">0.5</text><text x="45.8" y="241.40" font-size="15.6" text-anchor="end">0.2</text><text x="642.6" y="241.40" font-size="15.6">1.0</text><text x="45.8" y="212.55" font-size="15.6" text-anchor="end">0.3</text><text x="642.6" y="212.55" font-size="15.6">1.5</text><text x="45.8" y="183.70" font-size="15.6" text-anchor="end">0.4</text><text x="642.6" y="183.70" font-size="15.6">2.0</text><text x="45.8" y="154.85" font-size="15.6" text-anchor="end">0.5</text><text x="642.6" y="154.85" font-size="15.6">2.5</text><text x="45.8" y="126.00" font-size="15.6" text-anchor="end">0.6</text><text x="642.6" y="126.00" font-size="15.6">3.0</text><text x="45.8" y="97.15" font-size="15.6" text-anchor="end">0.7</text><text x="642.6" y="97.15" font-size="15.6">3.5</text><text x="45.8" y="68.30" font-size="15.6" text-anchor="end">0.8</text><text x="642.6" y="68.30" font-size="15.6">4.0</text><text x="45.8" y="39.45" font-size="15.6" text-anchor="end">0.9</text><text x="642.6" y="39.45" font-size="15.6">4.5</text><text x="45.8" y="10.60" font-size="15.6" text-anchor="end">1.0</text><text x="642.6" y="10.60" font-size="15.6">5.0</text><text x="57.50" y="322" font-size="15" text-anchor="middle">0</text><text x="114.30" y="322" font-size="15" text-anchor="middle">50</text><text x="172.10" y="322" font-size="15" text-anchor="middle">100</text><text x="229.30" y="322" font-size="15" text-anchor="middle">150</text><text x="286.30" y="322" font-size="15" text-anchor="middle">200</text><text x="344.50" y="322" font-size="15" text-anchor="middle">250</text><text x="401.00" y="322" font-size="15" text-anchor="middle">300</text><text x="459.20" y="322" font-size="15" text-anchor="middle">350</text><text x="515.60" y="322" font-size="15" text-anchor="middle">400</text><text x="573.60" y="322" font-size="15" text-anchor="middle">450</text><text x="631.00" y="322" font-size="15" text-anchor="middle">500</text><text x="344.2" y="351" font-size="15" text-anchor="middle">cM</text><text transform="translate(15.3 149.3) rotate(-90)" font-size="15.8" text-anchor="middle">SNP frequency of occurrence</text><text transform="translate(682.6 149.0) rotate(-90)" font-size="15.8" text-anchor="middle">SNP |effect|</text><path d="M0.5 372.4l6.4 6.4M0.5 378.8l6.4 -6.4" stroke="#ababab" stroke-width="1.0"/><text x="12.8" y="380.3" font-size="15.8">frequency of occurrence</text><path d="M184.5 370.6L189.8 380.8L179.2 380.8Z" fill="#ff6600"/><text x="194.2" y="380.3" font-size="15.8">additive</text><circle cx="256.9" cy="375.2" r="4.9" fill="#ff6600"/><text x="266.6" y="380.3" font-size="15.8">imprinting</text><path d="M352.2 370.4L357.4 375.7L352.2 381L347 375.7Z" fill="#ff6600"/><text x="361" y="380.3" font-size="15.8">epistatic</text><circle cx="427.7" cy="375.3" r="2.5" stroke="#d92232" stroke-width="1.4" fill="none"/><text x="437.9" y="380.3" font-size="15.8">strategy1</text><path d="M514.9 372.9L518.3 379.1L511.5 379.1Z" stroke="#3a9a6e" stroke-width="1.3" fill="none"/><text x="524.8" y="380.3" font-size="15.8">strategy2</text><path d="M599.00 372.80h4.6v4.6h-4.6Z" stroke="#3026bc" stroke-width="1.5" fill="none"/><text x="611.5" y="380.3" font-size="15.8">classical</text></svg></body></html>
